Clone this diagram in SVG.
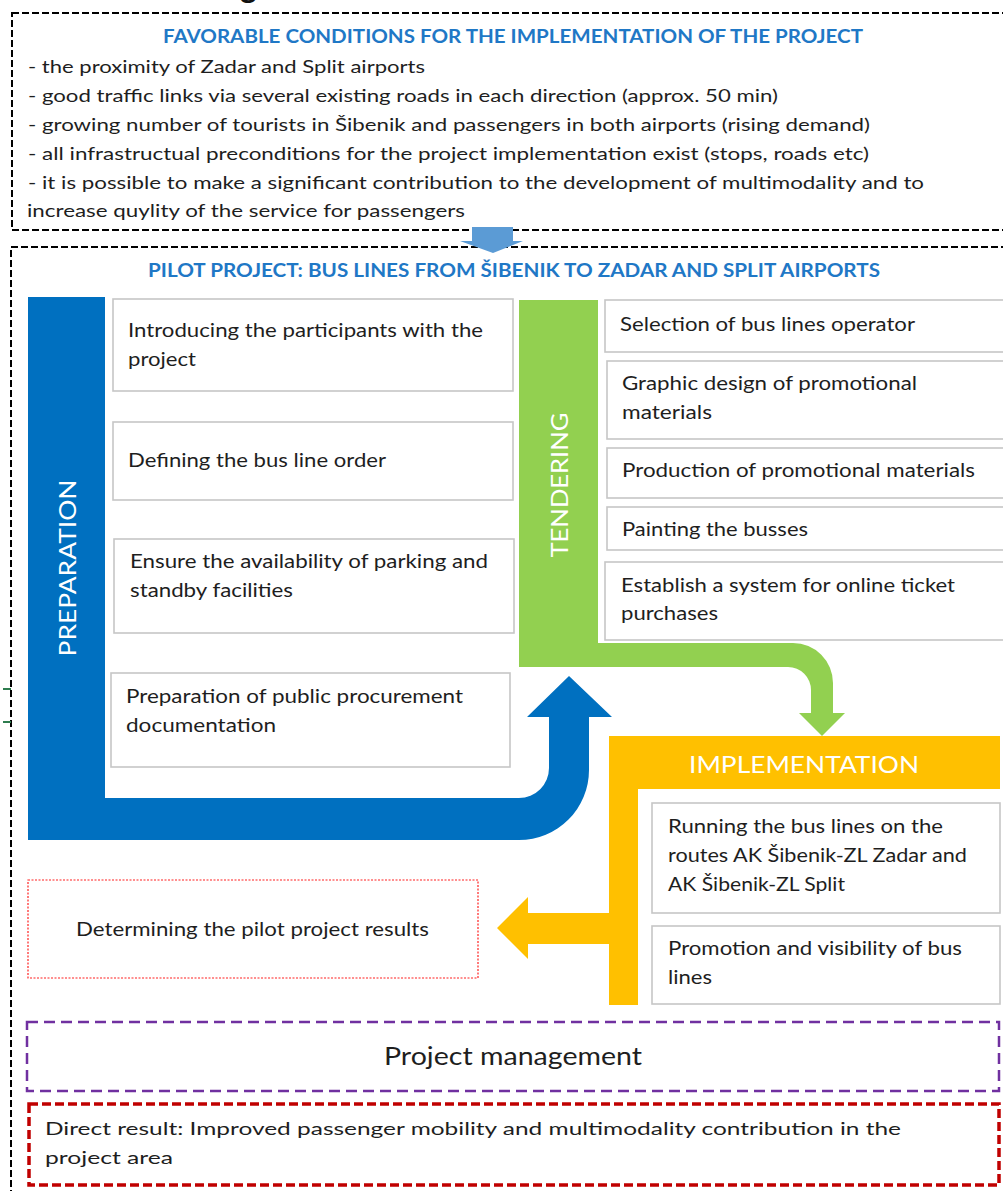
<svg xmlns="http://www.w3.org/2000/svg" width="1003" height="1191" viewBox="0 0 1003 1191">
  <style>
    .frame { fill: none; stroke: #000; stroke-width: 2; stroke-dasharray: 7 3; }
    .head { font-family: Lato, "Liberation Sans", sans-serif; font-weight: 700; fill: #1F78C6; font-size: 18.5px; }
    .body { font-family: Lato, "Liberation Sans", sans-serif; fill: #1e1e1e; font-size: 18px; }
    .box { fill: #fff; stroke: #C6C6C6; stroke-width: 1.6; }
    .txt { font-family: Lato, "Liberation Sans", sans-serif; fill: #1e1e1e; font-size: 19.5px; }
    .phase { font-family: Lato, "Liberation Sans", sans-serif; fill: #fff; font-size: 24px; }
  </style>

  <!-- clipped heading fragment at the very top -->
  <text x="240" y="-2" font-family="Lato, 'Liberation Sans', sans-serif" font-weight="700" font-size="32" fill="#111">g</text>

  <!-- favourable conditions -->
  <g id="conditions">
    <rect class="frame" x="12" y="13" width="1000" height="217"/>
    <text class="head" x="513" y="43" text-anchor="middle" textLength="700" lengthAdjust="spacingAndGlyphs">FAVORABLE CONDITIONS FOR THE IMPLEMENTATION OF THE PROJECT</text>
    <text class="body" x="28" y="73" textLength="397" lengthAdjust="spacingAndGlyphs">- the proximity of Zadar and Split airports</text>
    <text class="body" x="28" y="102" textLength="750" lengthAdjust="spacingAndGlyphs">- good traffic links via several existing roads in each direction (approx. 50 min)</text>
    <text class="body" x="28" y="131" textLength="842" lengthAdjust="spacingAndGlyphs">- growing number of tourists in Šibenik and passengers in both airports (rising demand)</text>
    <text class="body" x="28" y="160" textLength="841" lengthAdjust="spacingAndGlyphs">- all infrastructual preconditions for the project implementation exist (stops, roads etc)</text>
    <text class="body" x="28" y="189" textLength="896" lengthAdjust="spacingAndGlyphs">- it is possible to make a significant contribution to the development of multimodality and to</text>
    <text class="body" x="27" y="217" textLength="438" lengthAdjust="spacingAndGlyphs">increase quylity of the service for passengers</text>
  </g>

  <!-- pilot project frame -->
  <g id="pilot">
    <rect class="frame" x="11" y="247" width="1010" height="980"/>
    <text class="head" x="514" y="277" text-anchor="middle" textLength="732" lengthAdjust="spacingAndGlyphs">PILOT PROJECT: BUS LINES FROM ŠIBENIK TO ZADAR AND SPLIT AIRPORTS</text>
  </g>

  <!-- small margin ticks -->
  <g id="ticks" stroke="#2E7D4F" stroke-width="2">
    <line x1="3" y1="689" x2="11" y2="689"/>
    <line x1="3" y1="722" x2="11" y2="722"/>
  </g>

  <!-- preparation band with its up-turning arrow -->
  <g id="preparation">
    <path fill="#0070C0" d="M28,297 H105 V798 H519 A30,30 0 0 0 549,768 V717 H527 L569,676 L612,717 H589 V770 A70,70 0 0 1 519,840 H28 Z"/>
    <text class="phase" transform="translate(67,568) rotate(-90)" y="8.5" text-anchor="middle" textLength="177" lengthAdjust="spacingAndGlyphs">PREPARATION</text>
  </g>

  <!-- tendering band with its down-turning arrow -->
  <g id="tendering">
    <path fill="#92D050" d="M519,300 H598 V643 H793 A40,40 0 0 1 833,683 V713 H845 L822,736 L799,713 H811 V690 A23,23 0 0 0 788,667 H519 Z"/>
    <text class="phase" transform="translate(559,485) rotate(-90)" y="8.5" text-anchor="middle" textLength="145" lengthAdjust="spacingAndGlyphs">TENDERING</text>
  </g>

  <!-- implementation band with its left arrow -->
  <g id="implementation">
    <path fill="#FFC000" d="M609,736 H1000 V789 H638 V1005 H609 V944 H528 V959 L497,928 L528,897 V913 H609 Z"/>
    <text class="phase" x="804" y="773" text-anchor="middle" font-size="25" textLength="230" lengthAdjust="spacingAndGlyphs">IMPLEMENTATION</text>
  </g>

  <!-- preparation tasks -->
  <g id="prep-1">
    <rect class="box" x="113" y="299" width="400" height="92"/>
    <text class="txt" x="128" y="337" textLength="355" lengthAdjust="spacingAndGlyphs">Introducing the participants with the</text>
    <text class="txt" x="128" y="366" textLength="68" lengthAdjust="spacingAndGlyphs">project</text>
  </g>
  <g id="prep-2">
    <rect class="box" x="113" y="422" width="400" height="78"/>
    <text class="txt" x="128" y="467" textLength="258" lengthAdjust="spacingAndGlyphs">Defining the bus line order</text>
  </g>
  <g id="prep-3">
    <rect class="box" x="114" y="539" width="400" height="94"/>
    <text class="txt" x="130" y="568" textLength="358" lengthAdjust="spacingAndGlyphs">Ensure the availability of parking and</text>
    <text class="txt" x="130" y="597" textLength="163" lengthAdjust="spacingAndGlyphs">standby facilities</text>
  </g>
  <g id="prep-4">
    <rect class="box" x="111" y="673" width="399" height="94"/>
    <text class="txt" x="126" y="703" textLength="337" lengthAdjust="spacingAndGlyphs">Preparation of public procurement</text>
    <text class="txt" x="126" y="732" textLength="150" lengthAdjust="spacingAndGlyphs">documentation</text>
  </g>

  <!-- tendering tasks -->
  <g id="tender-1">
    <rect class="box" x="605" y="300" width="410" height="52"/>
    <text class="txt" x="620" y="331" textLength="295" lengthAdjust="spacingAndGlyphs">Selection of bus lines operator</text>
  </g>
  <g id="tender-2">
    <rect class="box" x="607" y="361" width="410" height="78"/>
    <text class="txt" x="622" y="390" textLength="295" lengthAdjust="spacingAndGlyphs">Graphic design of promotional</text>
    <text class="txt" x="622" y="419" textLength="90" lengthAdjust="spacingAndGlyphs">materials</text>
  </g>
  <g id="tender-3">
    <rect class="box" x="607" y="448" width="410" height="50"/>
    <text class="txt" x="622" y="477" textLength="353" lengthAdjust="spacingAndGlyphs">Production of promotional materials</text>
  </g>
  <g id="tender-4">
    <rect class="box" x="607" y="507" width="410" height="43"/>
    <text class="txt" x="622" y="536" textLength="186" lengthAdjust="spacingAndGlyphs">Painting the busses</text>
  </g>
  <g id="tender-5">
    <rect class="box" x="605" y="562" width="410" height="78"/>
    <text class="txt" x="621" y="592" textLength="334" lengthAdjust="spacingAndGlyphs">Establish a system for online ticket</text>
    <text class="txt" x="621" y="620" textLength="97" lengthAdjust="spacingAndGlyphs">purchases</text>
  </g>

  <!-- implementation tasks -->
  <g id="impl-1">
    <rect class="box" x="652" y="803" width="348" height="110"/>
    <text class="txt" x="668" y="833" textLength="275" lengthAdjust="spacingAndGlyphs">Running the bus lines on the</text>
    <text class="txt" x="668" y="862" textLength="299" lengthAdjust="spacingAndGlyphs">routes AK Šibenik-ZL Zadar and</text>
    <text class="txt" x="668" y="891" textLength="177" lengthAdjust="spacingAndGlyphs">AK Šibenik-ZL Split</text>
  </g>
  <g id="impl-2">
    <rect class="box" x="652" y="926" width="348" height="78"/>
    <text class="txt" x="668" y="955" textLength="294" lengthAdjust="spacingAndGlyphs">Promotion and visibility of bus</text>
    <text class="txt" x="668" y="984" textLength="44" lengthAdjust="spacingAndGlyphs">lines</text>
  </g>

  <!-- results -->
  <g id="results">
    <rect x="28" y="880" width="450" height="98" fill="#fff" stroke="#FF2020" stroke-width="1.2" stroke-dasharray="2 1.5"/>
    <text class="txt" x="76" y="936" textLength="353" lengthAdjust="spacingAndGlyphs">Determining the pilot project results</text>
  </g>

  <g id="management">
    <rect x="27" y="1022" width="972" height="69" fill="none" stroke="#7030A0" stroke-width="2.5" stroke-dasharray="11 6"/>
    <text x="513" y="1065" text-anchor="middle" font-family="Lato, 'Liberation Sans', sans-serif" font-size="25" fill="#1e1e1e" textLength="258" lengthAdjust="spacingAndGlyphs">Project management</text>
  </g>

  <g id="direct-result">
    <rect x="29" y="1104" width="970" height="81" fill="none" stroke="#C00000" stroke-width="3.5" stroke-dasharray="9 4"/>
    <text class="body" x="45" y="1135" textLength="856" lengthAdjust="spacingAndGlyphs">Direct result: Improved passenger mobility and multimodality contribution in the</text>
    <text class="body" x="45" y="1164" textLength="128" lengthAdjust="spacingAndGlyphs">project area</text>
  </g>

  <!-- flow between the two sections -->
  <g id="connectors">
    <path fill="#5B9BD5" d="M472,227 H513 V241 H523 L493,253 L460,241 H472 Z"/>
  </g>
</svg>
